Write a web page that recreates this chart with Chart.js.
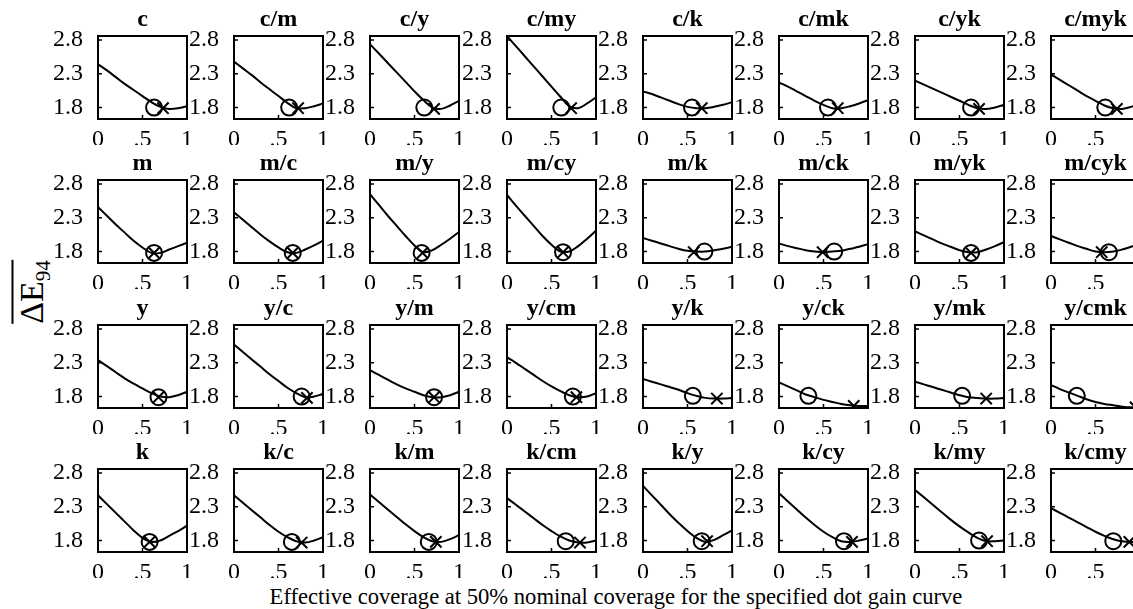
<!DOCTYPE html>
<html><head><meta charset="utf-8">
<script src="https://cdn.jsdelivr.net/npm/chart.js@4/dist/chart.umd.min.js"></script>
<style>
html,body{margin:0;padding:0;background:#fff;overflow:hidden;width:1133px;height:609px;position:relative;}
.p{position:absolute;}
#xl{position:absolute;left:216px;width:800px;top:585px;text-align:center;font-family:"Liberation Serif",serif;font-size:22.6px;line-height:23px;color:#000;white-space:nowrap;}
#yl{position:absolute;left:30px;top:292px;transform:translate(-50%,-50%) rotate(-90deg);font-family:"Liberation Serif",serif;font-size:34px;line-height:34px;color:#000;border-top:2px solid #000;padding-top:1px;white-space:nowrap;}
#yl sub{font-size:21px;vertical-align:-7px;line-height:0;}
</style></head><body>
<div id="yl">ΔE<sub>94</sub></div>
<div id="xl">Effective coverage at 50% nominal coverage for the specified dot gain curve</div>
<script>
// ---- data ----
const xGrid = [0, 0.1, 0.2, 0.3, 0.4, 0.5, 0.6, 0.7, 0.8, 0.9, 1.0];
const xTicks = [0, 0.5, 1];
const xTickLabels = ['0', '.5', '1'];
const yTicks = [1.8, 2.3, 2.8];
const yTickLabels = ['1.8', '2.3', '2.8'];

const titlesC = ['c', 'c/m', 'c/y', 'c/my', 'c/k', 'c/mk', 'c/yk', 'c/myk'];
const titlesM = ['m', 'm/c', 'm/y', 'm/cy', 'm/k', 'm/ck', 'm/yk', 'm/cyk'];
const titlesY = ['y', 'y/c', 'y/m', 'y/cm', 'y/k', 'y/ck', 'y/mk', 'y/cmk'];
const titlesK = ['k', 'k/c', 'k/m', 'k/cm', 'k/y', 'k/cy', 'k/my', 'k/cmy'];

const curvesC = [
  [2.44, 2.35, 2.25, 2.15, 2.06, 1.97, 1.88, 1.81, 1.78, 1.79, 1.82],
  [2.48, 2.38, 2.28, 2.17, 2.07, 1.97, 1.87, 1.79, 1.79, 1.82, 1.86],
  [2.74, 2.60, 2.46, 2.32, 2.18, 2.04, 1.91, 1.80, 1.78, 1.83, 1.90],
  [2.86, 2.71, 2.56, 2.41, 2.26, 2.11, 1.96, 1.82, 1.79, 1.86, 1.95],
  [2.04, 2.00, 1.95, 1.90, 1.85, 1.81, 1.79, 1.79, 1.81, 1.84, 1.88],
  [2.17, 2.11, 2.04, 1.97, 1.90, 1.84, 1.79, 1.79, 1.82, 1.86, 1.91],
  [2.20, 2.14, 2.08, 2.02, 1.96, 1.90, 1.84, 1.79, 1.78, 1.80, 1.84],
  [2.29, 2.21, 2.13, 2.05, 1.97, 1.90, 1.83, 1.79, 1.78, 1.81, 1.86]
];
const curvesM = [
  [2.46, 2.33, 2.20, 2.08, 1.96, 1.86, 1.78, 1.78, 1.83, 1.88, 1.93],
  [2.38, 2.27, 2.16, 2.05, 1.95, 1.86, 1.79, 1.78, 1.83, 1.89, 1.96],
  [2.65, 2.49, 2.33, 2.18, 2.03, 1.89, 1.79, 1.82, 1.90, 1.99, 2.09],
  [2.64, 2.48, 2.33, 2.18, 2.03, 1.90, 1.80, 1.80, 1.88, 1.99, 2.11],
  [2.00, 1.96, 1.92, 1.88, 1.84, 1.81, 1.80, 1.80, 1.82, 1.84, 1.87],
  [1.92, 1.88, 1.85, 1.82, 1.80, 1.79, 1.80, 1.81, 1.84, 1.87, 1.91],
  [2.10, 2.04, 1.98, 1.92, 1.87, 1.82, 1.79, 1.79, 1.83, 1.88, 1.94],
  [2.03, 1.98, 1.93, 1.88, 1.84, 1.80, 1.79, 1.80, 1.83, 1.87, 1.92]
];
const curvesY = [
  [2.34, 2.25, 2.16, 2.07, 1.99, 1.92, 1.85, 1.80, 1.79, 1.82, 1.87],
  [2.57, 2.46, 2.35, 2.24, 2.13, 2.03, 1.93, 1.85, 1.79, 1.80, 1.84],
  [2.19, 2.12, 2.05, 1.98, 1.92, 1.87, 1.82, 1.79, 1.79, 1.82, 1.87],
  [2.38, 2.30, 2.21, 2.12, 2.03, 1.95, 1.88, 1.82, 1.79, 1.80, 1.85],
  [2.06, 2.02, 1.98, 1.94, 1.90, 1.85, 1.81, 1.78, 1.77, 1.77, 1.78],
  [2.01, 1.95, 1.89, 1.83, 1.79, 1.75, 1.72, 1.69, 1.67, 1.66, 1.66],
  [2.02, 1.98, 1.94, 1.90, 1.86, 1.82, 1.79, 1.78, 1.77, 1.77, 1.78],
  [1.97, 1.91, 1.86, 1.81, 1.76, 1.72, 1.69, 1.67, 1.65, 1.64, 1.64]
];
const curvesK = [
  [2.47, 2.34, 2.21, 2.08, 1.95, 1.84, 1.78, 1.80, 1.87, 1.94, 2.02],
  [2.47, 2.36, 2.25, 2.14, 2.03, 1.93, 1.85, 1.79, 1.77, 1.80, 1.85],
  [2.48, 2.37, 2.26, 2.15, 2.04, 1.94, 1.85, 1.79, 1.78, 1.82, 1.88],
  [2.43, 2.33, 2.23, 2.13, 2.03, 1.94, 1.86, 1.80, 1.77, 1.77, 1.80],
  [2.61, 2.47, 2.33, 2.19, 2.06, 1.94, 1.84, 1.78, 1.81, 1.88, 1.95],
  [2.50, 2.38, 2.26, 2.14, 2.03, 1.93, 1.85, 1.79, 1.78, 1.80, 1.83],
  [2.55, 2.44, 2.33, 2.22, 2.11, 2.01, 1.92, 1.84, 1.79, 1.79, 1.80],
  [2.28, 2.21, 2.14, 2.07, 2.00, 1.93, 1.87, 1.82, 1.79, 1.78, 1.78]
];

// circle markers [x, y]
const circlesC = [[0.63,1.80],[0.62,1.80],[0.61,1.80],[0.61,1.80],[0.55,1.80],[0.55,1.80],[0.63,1.80],[0.61,1.80]];
const circlesM = [[0.63,1.78],[0.66,1.78],[0.58,1.78],[0.63,1.79],[0.69,1.80],[0.62,1.80],[0.63,1.78],[0.65,1.79]];
const circlesY = [[0.68,1.79],[0.76,1.80],[0.72,1.79],[0.74,1.80],[0.56,1.81],[0.33,1.81],[0.53,1.81],[0.29,1.81]];
const circlesK = [[0.58,1.78],[0.65,1.78],[0.66,1.78],[0.66,1.79],[0.66,1.79],[0.73,1.79],[0.72,1.80],[0.70,1.79]];
// cross markers [x, y]
const crossesC = [[0.73,1.79],[0.72,1.79],[0.72,1.78],[0.72,1.79],[0.66,1.79],[0.66,1.79],[0.72,1.78],[0.74,1.78]];
const crossesM = [[0.63,1.78],[0.66,1.78],[0.59,1.78],[0.63,1.79],[0.57,1.79],[0.49,1.79],[0.63,1.78],[0.57,1.79]];
const crossesY = [[0.68,1.79],[0.82,1.78],[0.72,1.79],[0.78,1.79],[0.83,1.77],[0.84,1.66],[0.80,1.77],[0.95,1.64]];
const crossesK = [[0.58,1.78],[0.76,1.77],[0.74,1.78],[0.82,1.77],[0.72,1.79],[0.82,1.78],[0.81,1.79],[0.88,1.78]];

// ---- layout ----
const colLeft = [98, 234, 370, 507, 643, 779, 915, 1051];
const rowTop = [36, 180, 325, 469];
const AX_W = 44, BOX_W = 89, BOX_H = 83, TITLE_H = 28, XAX_H = 26, PAD_R = 12;
const FONT = 'Liberation Serif';

const boxPlugin = {
  id: 'box',
  afterDatasetsDraw(chart) {
    const {ctx, chartArea: a, scales: {x, y}} = chart;
    ctx.save();
    ctx.strokeStyle = '#000';
    ctx.lineWidth = 2;
    ctx.strokeRect(a.left, a.top, a.right - a.left, a.bottom - a.top);
    ctx.lineWidth = 1.5;
    ctx.beginPath();
    for (const v of xTicks) { const px = x.getPixelForValue(v); ctx.moveTo(px, a.bottom); ctx.lineTo(px, a.bottom - 4); }
    for (const v of yTicks) { const py = y.getPixelForValue(v); ctx.moveTo(a.left, py); ctx.lineTo(a.left + 4, py); }
    ctx.stroke();
    ctx.restore();
  }
};

function panel(row, col, title, curve, circ, cross) {
  const wrap = document.createElement('div');
  wrap.className = 'p';
  const w = AX_W + BOX_W + PAD_R, h = TITLE_H + BOX_H + XAX_H;
  wrap.style.left = (colLeft[col] - AX_W) + 'px';
  wrap.style.top = (rowTop[row] - TITLE_H) + 'px';
  wrap.style.width = w + 'px';
  wrap.style.height = h + 'px';
  const cv = document.createElement('canvas');
  cv.width = w; cv.height = h;
  cv.style.width = w + 'px'; cv.style.height = h + 'px';
  wrap.appendChild(cv);
  document.body.appendChild(wrap);
  new Chart(cv, {
    type: 'scatter',
    data: {
      datasets: [
        {
          data: xGrid.map((x, i) => ({x: x, y: curve[i]})),
          showLine: true, borderColor: '#000', borderWidth: 2, pointRadius: 0,
          tension: 0.35, fill: false
        },
        {
          data: [{x: circ[0], y: circ[1]}],
          pointStyle: 'circle', pointRadius: 8, borderColor: '#000', borderWidth: 2,
          backgroundColor: 'rgba(0,0,0,0)'
        },
        {
          data: [{x: cross[0], y: cross[1]}],
          pointStyle: 'crossRot', pointRadius: 8, borderColor: '#000', borderWidth: 2,
          backgroundColor: 'rgba(0,0,0,0)'
        }
      ]
    },
    options: {
      responsive: false, animation: false, events: [], devicePixelRatio: 1,
      layout: {autoPadding: false, padding: {left: 0, right: PAD_R, top: 0, bottom: 0}},
      plugins: {
        legend: {display: false}, tooltip: {enabled: false},
        title: {
          display: true, text: title, fullSize: false, color: '#000',
          font: {family: FONT, size: 24, weight: 'bold', lineHeight: 1},
          padding: {top: 0, bottom: 4}
        }
      },
      scales: {
        x: {
          type: 'linear', min: 0, max: 1,
          grid: {display: false}, border: {display: false},
          afterBuildTicks: s => { s.ticks = xTicks.map(v => ({value: v})); },
          afterFit: s => { s.height = XAX_H; s.paddingLeft = 0; s.paddingRight = 0; },
          ticks: {
            autoSkip: false, maxRotation: 0, minRotation: 0, padding: 1, color: '#000',
            font: {family: FONT, size: 24, lineHeight: 1},
            callback: (v, i) => xTickLabels[i]
          }
        },
        y: {
          type: 'linear', min: 1.63, max: 2.86,
          grid: {display: false}, border: {display: false},
          afterBuildTicks: s => { s.ticks = yTicks.map(v => ({value: v})); },
          afterFit: s => { s.width = AX_W; s.paddingTop = 0; s.paddingBottom = 0; },
          ticks: {
            autoSkip: false, padding: 7, color: '#000',
            font: {family: FONT, size: 24, lineHeight: 1},
            callback: (v, i) => yTickLabels[i]
          }
        }
      }
    },
    plugins: [boxPlugin]
  });
}

const rows = [
  [titlesC, curvesC, circlesC, crossesC],
  [titlesM, curvesM, circlesM, crossesM],
  [titlesY, curvesY, circlesY, crossesY],
  [titlesK, curvesK, circlesK, crossesK]
];
rows.forEach((r, ri) => {
  for (let ci = 0; ci < 8; ci++) panel(ri, ci, r[0][ci], r[1][ci], r[2][ci], r[3][ci]);
});
</script>
</body></html>
